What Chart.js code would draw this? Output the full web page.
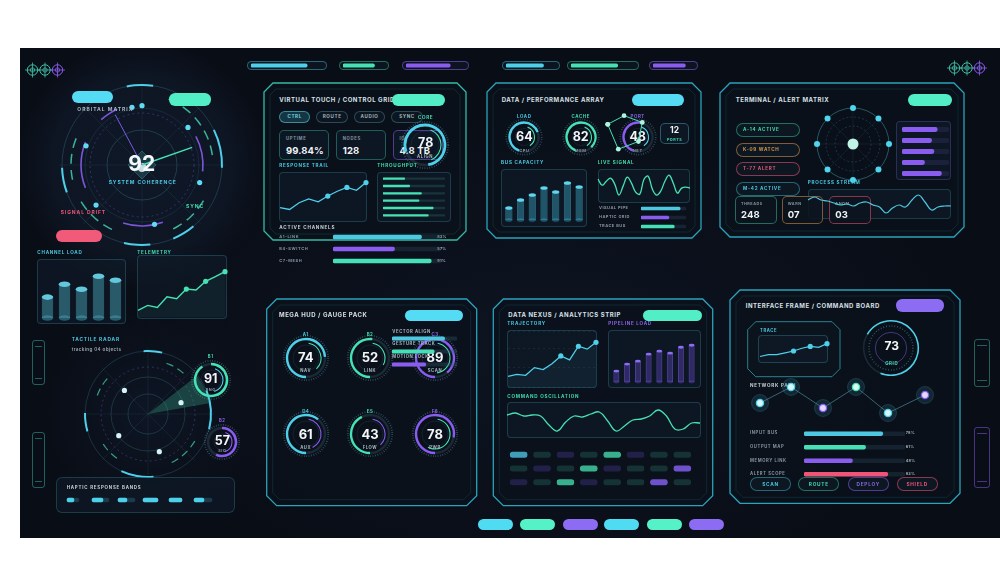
<!DOCTYPE html>
<html>
<head>
<meta charset="utf-8">
<title>HUD dashboard</title>
<script src="https://cdn.jsdelivr.net/npm/chart.js@4.4.1/dist/chart.umd.min.js"></script>
<style>
  html, body { margin:0; padding:0; width:1000px; height:578px; background:#fff; overflow:hidden; }
  #root { position:absolute; left:0; top:0; width:1000px; height:578px; font-family:Inter, "Noto Sans", sans-serif; }
  #bg { position:absolute; left:20px; top:48px; width:980px; height:490px;
    background:
      radial-gradient(circle at 122px 117px, #0f1827 0, #0e1624 88px, rgba(0,0,0,0) 125px),
      radial-gradient(circle at 128px 366px, #0e1624 0, rgba(0,0,0,0) 105px),
      radial-gradient(ellipse at 520px 300px, #0d1421 0, rgba(0,0,0,0) 420px),
      #090d16; }
  .t { position:absolute; white-space:nowrap; line-height:1; transform:translateY(-50%); }
  .c { transform:translate(-50%,-50%); }
  .box { position:absolute; box-sizing:border-box; border:1px solid rgba(70,170,190,0.26); border-radius:4px; background:rgba(16,30,44,0.5); }
  .pill { position:absolute; box-sizing:border-box; }
  canvas { position:absolute; }
  svg { position:absolute; left:0; top:0; }
</style>
</head>
<body>
<div id="root"><div id="bg"></div><svg id="frames" width="1000" height="578"></svg></div>
<script>
// ---------------- data ----------------
// header / footer strips
const headerFill = [78, 75, 75, 75, 73, 79];

// orbital matrix
const coherence = 92;
const orbitDots = [{x:-12,y:69},{x:0,y:71},{x:55,y:45},{x:-67,y:23},{x:69,y:-21},{x:15,y:-71},{x:-55,y:-48}];
const orbitNeedles = [[{x:0,y:0},{x:-32,y:60}], [{x:0,y:0},{x:60,y:21}]];
const channelLoad = [21, 34, 29, 42, 38];
const telemetry = [7, 12, 10, 21, 19, 29, 28, 37, 42, 47];
const telemetryMarks = [5, 7, 9];

// tactile radar
const radarBlips = [{x:-25,y:25},{x:35,y:12},{x:-31,y:-23},{x:12,y:-40}];
const radarIds = ["B1", "B2"];
const radarUnits = ["RNG", "SIG"];
const radarValues = [91, 57];
const hapticLit = [[1,8],[26,37],[52,61],[77,92],[103,116],[128,138]];
const hapticTail = [[1,13],[26,43],[52,69],[77,92],[103,116],[128,146]];

// virtual touch
const touchModes = ["CTRL", "ROUTE", "AUDIO", "SYNC"];
const statNames = ["UPTIME", "NODES", "IO"];
const statValues = ["99.84%", "128", "4.8 TB"];
const alignValue = 78;
const responseTrail = [14, 12, 19, 23, 20, 26, 31, 35, 32, 40];
const responseMarks = [5, 7, 9];
const throughput = [35, 43, 62, 58, 81, 73];
const channelNames = ["A1-LINK", "B4-SWITCH", "C7-MESH"];
const channelPct = [82, 57, 91];

// performance array
const perfTitles = ["LOAD", "CACHE", "PORT"];
const perfUnits = ["CPU", "MEM", "NET"];
const perfValues = [64, 82, 48];
const portCount = 12;
const portPoly = [{x:7,y:30},{x:24,y:39},{x:43,y:32},{x:39,y:12},{x:18,y:4},{x:7,y:30}];
const busCapacity = [12, 20, 25, 32, 28, 37, 33];
const liveSignal = [23, 17, 21, 24, 18, 7, 16, 25, 19, 10, 8, 23, 26, 13, 7, 11, 21, 27, 19, 9, 14, 15, 14];
const pipeNames = ["VISUAL PIPE", "HAPTIC GRID", "TRACE BUS"];
const pipeValues = [87, 62, 74];

// terminal / alert
const alertNames = ["A-14 ACTIVE", "K-09 WATCH", "T-77 ALERT", "M-42 ACTIVE"];
const matrixNodes = [36, 36, 36, 36, 36, 36, 36, 36];
const matrixBars = [75, 63, 68, 48, 84];
const processStream = [19, 22, 19, 18, 16, 14, 15, 13, 16, 17, 14, 12, 6, 11, 14, 12, 19, 24, 17, 9, 12, 13, 13];
const counterNames = ["THREADS", "WARN", "ANOM"];
const counterValues = ["248", "07", "03"];

// mega hud
const hudIds = ["A1", "B2", "C3", "D4", "E5", "F6"];
const hudUnits = ["NAV", "LINK", "SCAN", "AUX", "FLOW", "PWR"];
const hudValues = [74, 52, 89, 61, 43, 78];
const hudInner = [35, 30, 45, 40, 35, 55];
const vectorNames = ["VECTOR ALIGN", "GESTURE TRACK", "MOTION LOCK"];
const vectorValues = [81, 65, 52];

// data nexus
const trajectory = [11, 13, 12, 20, 18, 24, 32, 28, 42, 39, 46];
const trajectoryMarks = [6, 8, 10];
const pipelineLoad = [11, 18, 21, 28, 31, 29, 35, 37];
const oscillation = [23, 25, 22, 23, 22, 13, 7, 16, 22, 21, 24, 26, 17, 7, 12, 18, 19, 22, 28, 22, 9, 9, 15, 15];
const tileHue = [["c","t","p","t","t","p","t","t"], ["t","p","t","t","p","t","t","p"], ["p","t","t","p","t","t","p","t"]];
const tileLit = [[1,0,0,0,1,0,0,0], [0,0,0,1,0,0,0,1], [0,0,1,0,0,0,1,0]];

// interface frame
const trace = [6, 8, 8, 10, 12, 15, 17, 16, 20];
const traceMarks = [4, 6, 8];
const gridValue = 73;
const pathX = [0, 31, 63, 96, 128, 165];
const pathY = [17, 33, 12, 33, 7, 25];
const pathHue = ["c", "c", "p", "t", "c", "p"];
const busNames = ["INPUT BUS", "OUTPUT MAP", "MEMORY LINK", "ALERT SCOPE"];
const busValues = [78, 61, 48, 83];
const commands = ["SCAN", "ROUTE", "DEPLOY", "SHIELD"];

// ---------------- setup ----------------
Chart.defaults.animation = false;
Chart.defaults.responsive = false;
Chart.defaults.maintainAspectRatio = false;
Chart.defaults.devicePixelRatio = 1;
Chart.defaults.events = [];
Chart.defaults.plugins.legend.display = false;
Chart.defaults.plugins.tooltip.enabled = false;
Chart.defaults.elements.arc.borderWidth = 0;
Chart.defaults.layout.padding = 0;

const CLEAR = 'rgba(0,0,0,0)';
const HUE = {c:'#4fd0ea', t:'#46e2b4', p:'#8a5cf0', r:'#ee5577', o:'#d9984e'};
const EDGE = {c:'rgba(72,201,227,0.45)', t:'rgba(63,220,174,0.45)', p:'rgba(138,92,240,0.55)', r:'rgba(238,85,119,0.55)', o:'rgba(217,152,78,0.55)'};
const LC = {c:'#4ac8e2', t:'#40dcae', p:'#8a66e8', w:'#d8e0e6', g:'#8593a0', r:'#ee5577', o:'#d9984e'};
const TRACK = 'rgba(60,90,110,0.28)';

const root = document.getElementById('root');
const svg = document.getElementById('frames');
const NS = 'http://www.w3.org/2000/svg';

function put(css, cls) {
  const e = document.createElement('div');
  if (cls) e.className = cls;
  e.style.cssText = css;
  root.appendChild(e);
  return e;
}
function T(s, x, y, size, color, o = {}) {
  const ls = o.ls !== undefined ? o.ls : size * 0.15;
  const e = put(`left:${x}px;top:${y}px;font-size:${size}px;color:${color};letter-spacing:${ls}px;font-weight:${o.w || 700}`, 't' + (o.c ? ' c' : ''));
  e.textContent = s;
  return e;
}
function B(x, y, w, h, css) {
  return put(`left:${x}px;top:${y}px;width:${w}px;height:${h}px;` + (css || ''), 'box');
}
function pill(x, y, w, h, bg, css) {
  return put(`left:${x}px;top:${y}px;width:${w}px;height:${h}px;border-radius:${h / 2}px;background:${bg};` + (css || ''), 'pill');
}
function tag(s, x, y, w, h, key, size, css) {
  const e = pill(x, y, w, h, 'rgba(14,26,36,0.75)', `border:1px solid ${EDGE[key]};` + (css || ''));
  T(s, x + w / 2, y + h / 2, size, LC[key], {c: true});
  return e;
}
function cv(x, y, w, h) {
  const c = document.createElement('canvas');
  c.width = Math.round(w); c.height = Math.round(h);
  c.style.left = x + 'px'; c.style.top = y + 'px';
  c.style.width = Math.round(w) + 'px'; c.style.height = Math.round(h) + 'px';
  root.appendChild(c);
  return c;
}
function svgEl(name, attrs) {
  const e = document.createElementNS(NS, name);
  for (const k in attrs) e.setAttribute(k, attrs[k]);
  svg.appendChild(e);
  return e;
}
function octo(x, y, w, h, k) {
  return [[x+k,y],[x+w-k,y],[x+w,y+k],[x+w,y+h-k],[x+w-k,y+h],[x+k,y+h],[x,y+h-k],[x,y+k]].map(p => p.join(',')).join(' ');
}
function frame(x, y, w, h, k, color, fill) {
  svgEl('polygon', {points: octo(x, y, w, h, k), fill: fill || 'rgba(10,17,28,0.8)', stroke: color, 'stroke-width': 1.3});
  svgEl('polygon', {points: octo(x + 6, y + 6, w - 12, h - 12, Math.max(k - 3, 3)), fill: 'none', stroke: color, 'stroke-opacity': 0.2, 'stroke-width': 0.8});
}
function reticle(cx, cy, color) {
  svgEl('circle', {cx, cy, r: 5.2, fill: 'none', stroke: color, 'stroke-width': 1});
  svgEl('circle', {cx, cy, r: 2.2, fill: 'none', stroke: color, 'stroke-width': 0.8});
  svgEl('line', {x1: cx - 7.5, y1: cy, x2: cx + 7.5, y2: cy, stroke: color, 'stroke-width': 0.8});
  svgEl('line', {x1: cx, y1: cy - 7.5, x2: cx, y2: cy + 7.5, stroke: color, 'stroke-width': 0.8});
}
function slider(x, y, w, h, color) {
  put(`left:${x}px;top:${y}px;width:${w}px;height:${h}px;border:1px solid ${color};border-radius:3px;box-sizing:border-box`, 'pill');
  put(`left:${x + 3}px;top:${y + 6}px;width:${w - 6}px;height:1px;background:${color}`, 'pill');
  put(`left:${x + 3}px;top:${y + h - 7}px;width:${w - 6}px;height:1px;background:${color}`, 'pill');
}

// ---------------- chart helpers ----------------
const capPlugin = {
  id: 'caps',
  beforeDatasetsDraw(chart, args, o) {
    const ctx = chart.ctx;
    chart.getDatasetMeta(0).data.forEach(b => {
      ctx.save(); ctx.fillStyle = o.base;
      ctx.beginPath(); ctx.ellipse(b.x, b.base, b.width / 2, b.width * 0.24, 0, 0, Math.PI * 2); ctx.fill();
      ctx.restore();
    });
  },
  afterDatasetsDraw(chart, args, o) {
    const ctx = chart.ctx;
    chart.getDatasetMeta(0).data.forEach(b => {
      ctx.save(); ctx.fillStyle = o.top;
      ctx.beginPath(); ctx.ellipse(b.x, b.y, b.width / 2, b.width * 0.24, 0, 0, Math.PI * 2); ctx.fill();
      ctx.restore();
    });
  }
};

function cylinders(x, y, w, h, values, max, body, edge, cap, pct) {
  return new Chart(cv(x, y, w, h), {
    type: 'bar',
    data: { labels: values.map((_, i) => i), datasets: [{
      data: values, backgroundColor: body, borderColor: edge,
      borderWidth: {left: 0.8, right: 0.8, top: 0, bottom: 0}, borderSkipped: false,
      barPercentage: pct, categoryPercentage: 1 }] },
    options: {
      layout: { padding: {top: 3, bottom: 3} },
      scales: { x: {display: false}, y: {display: false, min: 0, max} },
      plugins: { caps: {top: cap, base: body} }
    },
    plugins: [capPlugin]
  });
}

function line(bx, by, bw, bh, values, max, color, o = {}) {
  const p = 3, marks = o.marks || [];
  return new Chart(cv(bx - p, by - p, bw + 2 * p, bh + 2 * p), {
    type: 'line',
    data: { labels: values.map((_, i) => i), datasets: [{
      data: values, borderColor: color, borderWidth: o.lw || 1.3, tension: o.tension || 0,
      fill: o.fill ? 'origin' : false, backgroundColor: o.fill || CLEAR,
      pointRadius: values.map((_, i) => marks.includes(i) ? 2.6 : 0),
      pointBackgroundColor: color, pointBorderWidth: 0, clip: false }] },
    options: {
      layout: { padding: p },
      scales: {
        x: { display: false },
        y: { display: !!o.grid, min: 0, max, ticks: {display: false, maxTicksLimit: 4},
             grid: {color: 'rgba(90,170,190,0.14)', drawTicks: false, lineWidth: 0.8},
             border: {display: false, dash: [2, 3]}, afterFit: s => { s.width = 0; } }
      }
    }
  });
}

function hbars(x, y, w, h, values, colors, o = {}) {
  const t = o.t || 3;
  return new Chart(cv(x, y, w, h), {
    type: 'bar',
    data: { labels: values.map((_, i) => i), datasets: [
      { data: values, backgroundColor: colors, borderRadius: 8, borderSkipped: false, barThickness: t, grouped: false },
      { data: values.map(() => 100), backgroundColor: o.track || CLEAR, borderRadius: 8, borderSkipped: false, barThickness: t, grouped: false }
    ] },
    options: { indexAxis: 'y', scales: { x: {display: false, min: 0, max: 100}, y: {display: false} } }
  });
}

function spanSegments(spans, color, gap) {
  const parts = [];
  spans.forEach(([a, b]) => { if (b < a) { parts.push([a, 360]); parts.push([0, b]); } else parts.push([a, b]); });
  parts.sort((p, q) => p[0] - q[0]);
  const data = [], colors = [];
  let pos = 0;
  parts.forEach(([a, b]) => {
    if (a > pos) { data.push(a - pos); colors.push(gap); }
    data.push(b - a); colors.push(color); pos = b;
  });
  if (pos < 360) { data.push(360 - pos); colors.push(gap); }
  return {data, colors};
}

function arcs(cx, cy, list) {
  const outer = list[0].r + list[0].w / 2;
  const S = Math.ceil(outer) * 2 + 2;
  const datasets = [];
  let inner = null;
  list.forEach(g => {
    const ro = g.r + g.w / 2, ri = g.r - g.w / 2;
    if (inner !== null && inner - ro > 0.01) datasets.push({data: [1], backgroundColor: [CLEAR], weight: inner - ro, borderWidth: 0});
    const s = spanSegments(g.spans, g.color, g.track || CLEAR);
    datasets.push({data: s.data, backgroundColor: s.colors, weight: g.w, borderWidth: 0});
    inner = ri;
  });
  return new Chart(cv(cx - S / 2, cy - S / 2, S, S), {
    type: 'doughnut',
    data: { datasets },
    options: { radius: outer, cutout: (Math.max(inner, 0) / outer * 100) + '%', rotation: 0 }
  });
}

function rings(cx, cy, R, list, o = {}) {
  const S = Math.ceil(R) * 2 + 2, half = S / 2;
  const n = o.spokes || 0;
  return new Chart(cv(cx - half, cy - half, S, S), {
    type: 'radar',
    data: { labels: n ? new Array(n).fill('') : [''], datasets: o.datasets || [] },
    options: { scales: { r: {
      min: 0, max: half, startAngle: o.start || 0,
      ticks: {display: false}, pointLabels: {display: false},
      afterBuildTicks: s => { s.ticks = [{value: 0}].concat(list.map(g => ({value: g[0]}))); },
      grid: { circular: true,
        color: c => c.index ? list[c.index - 1][1] : CLEAR,
        lineWidth: c => c.index ? list[c.index - 1][2] : 0 },
      border: { dash: c => (c.index && list[c.index - 1][3]) || [] },
      angleLines: { display: n > 0, color: o.spokeColor || 'rgba(80,150,170,0.16)', lineWidth: 0.7 }
    } } }
  });
}

function scatter(x, y, w, h, xr, yr, datasets, pad) {
  return new Chart(cv(x, y, w, h), {
    type: 'scatter',
    data: { datasets: datasets.map(d => Object.assign({clip: false}, d)) },
    options: { layout: {padding: pad || 0},
      scales: { x: {display: false, min: xr[0], max: xr[1]}, y: {display: false, min: yr[0], max: yr[1]} } }
  });
}

function gauge(cx, cy, r, value, color, inner, innerColor, o = {}) {
  rings(cx, cy, r + 5, [[r + 3.2, o.tick || 'rgba(100,160,180,0.5)', 1.8, [0.7, 1.7]], [r - 6, 'rgba(90,130,150,0.22)', 0.7]]);
  const st = o.start || 0, is = o.innerStart || 20;
  arcs(cx, cy, [
    {r: r, w: o.w || 2.2, color, track: o.track || 'rgba(80,120,140,0.25)', spans: [[st, (st + value * 3.6) % 360]]},
    {r: r - 4, w: 1.1, color: innerColor, spans: [[is, (is + inner * 3.6) % 360]]}
  ]);
}

// ---------------- decorations ----------------
reticle(32.5, 70, '#3fbfa6'); reticle(45, 70, '#3fbfa6'); reticle(57.5, 70, '#8a5cf0');
reticle(954.5, 68, '#3fbfa6'); reticle(967, 68, '#3fbfa6'); reticle(979.5, 68, '#8a5cf0');
slider(31.7, 340, 13.3, 45, 'rgba(63,200,170,0.45)');
slider(31.7, 431.7, 13.3, 56.3, 'rgba(63,200,170,0.45)');
slider(974, 339, 16, 47.7, 'rgba(63,200,170,0.45)');
slider(974, 427, 16, 61.3, 'rgba(138,92,240,0.5)');

frame(264, 83, 202, 157, 9, '#35b9a6');
frame(487, 83, 214, 155, 9, '#2aa3bb');
frame(720, 83, 244, 154, 10, '#2aa3bb');
frame(266.7, 299, 210, 206.7, 10, '#2aa3bb');
frame(493.3, 299, 219.4, 206.7, 10, '#2aa3bb');
frame(730, 290, 230, 213.3, 10, '#2aa3bb');
svgEl('polygon', {points: octo(747.7, 321.7, 92.3, 55, 8), fill: 'rgba(12,22,32,0.6)', stroke: 'rgba(60,190,205,0.65)', 'stroke-width': 1});

// header / footer strips
[[247, 80, 'c'], [339, 50, 't'], [402, 67, 'p'], [502, 58, 'c'], [567, 72, 't'], [649, 49, 'p']].forEach(([x, w, k], i) => {
  pill(x, 61, w, 9, 'rgba(14,26,36,0.7)', `border:1px solid ${EDGE[k]}`);
  hbars(x + 4, 61, w - 8, 9, [headerFill[i]], [HUE[k]], {t: 3.4});
});
[[478, '#4fdcf2'], [520, '#55f2c8'], [563, '#8c6cf2'], [604, '#4fdcf2'], [647, '#55f2c8'], [689, '#8c6cf2']].forEach(([x, c]) => pill(x, 519, 35, 11, c));

// ---------------- orbital matrix ----------------
const OX = 141.7, OY = 165;
rings(OX, OY, 82, [[35, 'rgba(80,160,180,0.35)', 0.8], [52, 'rgba(120,100,230,0.4)', 0.9, [2, 3]], [57, 'rgba(70,140,160,0.25)', 0.7], [80, 'rgba(80,160,185,0.32)', 0.8]], {spokes: 8});
arcs(OX, OY, [
  {r: 80, w: 2, color: '#4fd0ea', spans: [[349, 8], [64, 92], [140, 157], [174, 193], [250, 268]]},
  {r: 71, w: 1.5, color: 'rgba(70,220,180,0.8)', spans: [[22, 30], [35, 43], [48, 56], [61, 69], [74, 82], [120, 128], [133, 141], [146, 154], [205, 213], [218, 226], [231, 239], [258, 266], [271, 279], [284, 292]]},
  {r: 61, w: 1.6, color: 'rgba(138,92,240,0.9)', spans: [[62, 96], [160, 198], [248, 292], [318, 336]]}
]);
scatter(OX - 90, OY - 90, 180, 180, [-90, 90], [-90, 90], [
  {data: orbitDots, pointRadius: 2.6, pointBackgroundColor: '#5fdcf3', pointBorderWidth: 0},
  {data: orbitNeedles[0], showLine: true, borderColor: '#7d5ae6', borderWidth: 1, pointRadius: 0},
  {data: orbitNeedles[1], showLine: true, borderColor: '#46e2b4', borderWidth: 1.4, pointRadius: 0},
  {data: [{x: 0, y: -3}], pointRadius: 4.5, pointBackgroundColor: 'rgba(235,248,252,0.85)', pointBorderWidth: 0},
  {data: [{x: 0, y: 0}], pointStyle: 'rectRot', pointRadius: 14, pointBackgroundColor: 'rgba(40,95,105,0.45)', pointBorderColor: 'rgba(80,170,180,0.45)', pointBorderWidth: 0.8}
]);
T('ORBITAL MATRIX', 77.3, 108.7, 5, '#a9b8c2', {ls: 1});
T(String(coherence), OX, 162.5, 21, '#f4f8fa', {c: true, ls: 0});
T('SYSTEM COHERENCE', OX + 1, 181.7, 5, LC.c, {c: true, ls: 0.9});
T('SIGNAL DRIFT', 60.7, 212, 5, LC.r, {ls: 0.9});
T('SYNC', 186, 206, 5, LC.t, {ls: 0.9});
pill(72.3, 90.7, 40.4, 12, '#54dcf4');
pill(169.3, 93.3, 41.4, 12.4, '#52efc6');
pill(55.7, 230, 46.3, 12.3, '#f25a7a');

// channel load + telemetry
T('CHANNEL LOAD', 37.3, 252.7, 4.6, LC.c, {ls: 0.75});
T('TELEMETRY', 137.3, 252.7, 4.6, LC.t, {ls: 0.75});
B(37.3, 259.3, 88.7, 64.7);
B(137.3, 255, 89.4, 64);
cylinders(39, 262, 85, 59.3, channelLoad, 53.3, 'rgba(70,160,180,0.5)', 'rgba(100,200,220,0.5)', '#64c8dc', 0.68);
line(137.3, 255, 89.4, 63.3, telemetry, 63.3, '#46e2b4', {marks: telemetryMarks, fill: 'rgba(70,226,180,0.06)', lw: 1.4});

// ---------------- tactile radar ----------------
const RX = 148.3, RY = 414;
T('TACTILE RADAR', 71.7, 339, 4.8, LC.c, {ls: 0.8});
T('tracking 04 objects', 71.7, 350, 4.6, '#98a6b0', {ls: 0.35, w: 600});
rings(RX, RY, 65, [[20, 'rgba(80,160,180,0.3)', 0.8], [37, 'rgba(80,160,180,0.3)', 0.8], [47, 'rgba(120,100,230,0.4)', 0.9, [2, 3]], [63, 'rgba(80,160,185,0.3)', 0.8]], {spokes: 8});
arcs(RX, RY, [
  {r: 63, w: 2, color: '#4fd0ea', spans: [[356, 13], [68, 104], [175, 205], [254, 271]]},
  {r: 54, w: 1.2, color: 'rgba(70,220,180,0.7)', spans: [[20, 28], [33, 41], [120, 128], [133, 141], [146, 154], [215, 223], [228, 236], [290, 298], [303, 311]]}
]);
arcs(RX, RY, [{r: 31, w: 62, color: 'rgba(70,220,180,0.24)', spans: [[52, 80]]}]);
scatter(RX - 70, RY - 70, 140, 140, [-70, 70], [-70, 70], [
  {data: radarBlips, pointRadius: 2.6, pointBackgroundColor: '#d6f3fa', pointBorderWidth: 0}
]);
[[210.7, 380, 16, '#46e2b4', '#4fd0ea', LC.t], [222.3, 442.3, 14, '#8a5cf0', '#8a5cf0', LC.p]].forEach(([x, y, r, c1, c2, lc], i) => {
  gauge(x, y, r, radarValues[i], c1, 40, c2, {w: 2.6});
  T(radarIds[i], x, y - r - 7, 4.2, lc, {c: true});
  T(String(radarValues[i]), x, y - 1, 12.5, '#f2f6f8', {c: true, ls: 0});
  T(radarUnits[i], x, y + r * 0.62, 3.8, LC.g, {c: true});
});
B(56, 476.7, 179, 36, 'border-radius:6px');
T('HAPTIC RESPONSE BANDS', 66.7, 488, 4.4, '#c8d2d8', {ls: 0.8});
new Chart(cv(66, 497, 150, 6), {
  type: 'bar',
  data: { labels: [''], datasets: hapticLit.map(b => ({data: [b], backgroundColor: '#4fd0ea', borderRadius: 3, borderSkipped: false, barThickness: 4, grouped: false}))
    .concat(hapticTail.map(b => ({data: [b], backgroundColor: 'rgba(70,170,200,0.25)', borderRadius: 3, borderSkipped: false, barThickness: 4, grouped: false}))) },
  options: { indexAxis: 'y', scales: { x: {display: false, min: 0, max: 150}, y: {display: false} } }
});

// ---------------- virtual touch / control grid ----------------
T('VIRTUAL TOUCH / CONTROL GRID', 279.3, 100, 6, LC.w, {ls: 0.55});
pill(391.7, 94, 53.3, 12, '#52efc6');
[[279.3, 30.7], [316, 32.3], [354, 31], [390.7, 32.6]].forEach(([x, w], i) => {
  const on = i === 0;
  pill(x, 110.7, w, 12, on ? 'rgba(50,140,160,0.3)' : 'rgba(14,26,36,0.7)', `border:1px solid ${on ? 'rgba(80,200,215,0.6)' : 'rgba(90,150,170,0.4)'}`);
  T(touchModes[i], x + w / 2, 116.9, 4.6, on ? '#6fd6e8' : '#a3b4be', {c: true, ls: 0.6});
});
[[279.3, 'rgba(63,200,170,0.4)'], [336, 'rgba(63,200,170,0.4)'], [392.7, 'rgba(138,92,240,0.55)']].forEach(([x, bc], i) => {
  B(x, 130, 50, 30, `border-color:${bc};border-radius:5px`);
  T(statNames[i], x + 6.7, 139, 4.2, LC.g, {ls: 0.7});
  T(statValues[i], x + 6.7, 150.5, 9.5, '#eef3f6', {ls: 0.1});
});
gauge(425, 145, 20, alignValue, '#4fd0ea', 38, '#46e2b4', {w: 2.8, start: 250, innerStart: 20});
T('CORE', 425.7, 117.7, 4.6, LC.t, {c: true, ls: 0.6});
T(String(alignValue), 425.7, 142.5, 12.5, '#f2f6f8', {c: true, ls: 0});
T('ALIGN', 425, 157.3, 4.2, '#a3b4be', {c: true, ls: 0.6});
T('RESPONSE TRAIL', 279.3, 165.7, 4.6, LC.c, {ls: 0.75});
T('THROUGHPUT', 377.3, 165.7, 4.6, LC.t, {ls: 0.75});
B(279.3, 171.7, 88, 50);
B(376.7, 171.7, 74, 50);
line(279.3, 171.7, 88, 50, responseTrail, 50, '#4fd0ea', {marks: responseMarks, lw: 1.3});
hbars(383.3, 174.7, 61.7, 43.8, throughput, '#46e2b4', {t: 1.6, track: 'rgba(60,140,130,0.25)'});
T('ACTIVE CHANNELS', 279.3, 228.3, 4.6, '#c8d2d8', {ls: 0.8});
channelNames.forEach((n, i) => {
  T(n, 279.3, 236.7 + i * 12, 4, LC.g, {ls: 0.6});
  T(channelPct[i] + '%', 437.3, 236.7 + i * 12, 3.8, '#a3b4be', {ls: 0.2});
});
hbars(333.3, 230.7, 107.7, 36, channelPct, ['#4ec8e0', '#8a5cf0', '#45e0b5'], {t: 3.6, track: 'rgba(50,80,100,0.3)'});

// ---------------- data / performance array ----------------
T('DATA / PERFORMANCE ARRAY', 501.7, 100, 6, LC.w, {ls: 0.55});
pill(631.7, 94, 52.6, 12, '#54dcf4');
[[524.3, '#4fd0ea', LC.c, '#46e2b4'], [580.7, '#46e2b4', LC.t, '#46e2b4'], [637.7, '#8a5cf0', LC.p, '#4fd0ea']].forEach(([x, c, lc, ic], i) => {
  gauge(x, 137.3, 14.5, perfValues[i], c, 35, ic, {w: 2.4, start: 200});
  T(perfTitles[i], x, 116.7, 4.4, lc, {c: true, ls: 0.6});
  T(String(perfValues[i]), x, 136.5, 12.5, '#f2f6f8', {c: true, ls: 0});
  T(perfUnits[i], x, 150.7, 4, LC.g, {c: true, ls: 0.6});
});
scatter(597, 105, 56, 52, [0, 50], [0, 46], [
  {data: portPoly, showLine: true, borderColor: '#46e2b4', borderWidth: 1, pointRadius: 2.4, pointBackgroundColor: '#aef5df', pointBorderWidth: 0}
], 3);
B(660, 122.7, 29.3, 21.3, 'border-color:rgba(80,170,190,0.45);border-radius:5px');
T(String(portCount), 674.6, 129.6, 8.5, '#eef3f6', {c: true, ls: 0});
T('PORTS', 674.6, 140.4, 3.8, LC.t, {c: true, ls: 0.5});
T('BUS CAPACITY', 501, 163.3, 4.6, LC.c, {ls: 0.75});
T('LIVE SIGNAL', 597.7, 163.3, 4.6, LC.t, {ls: 0.75});
B(501, 169.3, 85.7, 57.4);
B(597.7, 169.3, 92.3, 33.4);
cylinders(503, 172, 82, 51, busCapacity, 45, 'rgba(60,170,200,0.42)', 'rgba(90,200,225,0.5)', '#5fd6ee', 0.62);
line(597.7, 169.3, 92.3, 33.3, liveSignal, 33.3, '#46e2b4', {tension: 0.4, lw: 1.3});
pipeNames.forEach((n, i) => T(n, 599, 208.3 + i * 8.85, 4, LC.g, {ls: 0.45}));
hbars(641, 203.9, 45, 26.5, pipeValues, ['#4ec8e0', '#8a5cf0', '#45e0b5'], {t: 3, track: 'rgba(50,70,100,0.35)'});

// ---------------- terminal / alert matrix ----------------
T('TERMINAL / ALERT MATRIX', 735.7, 99.7, 6, LC.w, {ls: 0.55});
pill(907.7, 94, 44, 12, '#52efc6');
['t', 'o', 'r', 'c'].forEach((k, i) => {
  const y = [123.3, 142.7, 162.3, 182.3][i];
  pill(735.7, y, 64.3, 14, 'rgba(14,26,36,0.75)', `border:1px solid ${EDGE[k]}`);
  T(alertNames[i], 743, y + 7, 4.6, LC[k], {ls: 0.7});
});
rings(852.7, 144, 39, [[18, 'rgba(80,150,170,0.35)', 0.8, [2, 2]], [27, 'rgba(80,150,170,0.35)', 0.8, [2, 2]], [36, 'rgba(80,170,190,0.5)', 0.9]], {
  spokes: 8,
  datasets: [
    {data: matrixNodes, pointRadius: 3, pointBackgroundColor: '#4fd6ee', pointBorderWidth: 0, borderWidth: 0, backgroundColor: CLEAR, fill: false},
    {data: [0], pointRadius: 5.5, pointBackgroundColor: '#bff3e4', pointBorderWidth: 0, borderWidth: 0, fill: false}
  ]
});
B(896, 120.7, 55, 59.3, 'border-color:rgba(120,100,220,0.3)');
hbars(901.7, 123.5, 46.6, 54.5, matrixBars, '#8a5cf0', {t: 4.2, track: 'rgba(70,60,130,0.25)'});
T('PROCESS STREAM', 807.7, 183.3, 4.6, LC.c, {ls: 0.75});
B(807.7, 189.3, 143.3, 30);
[[735, 't'], [781.7, 'o'], [829.3, 'r']].forEach(([x, k], i) => {
  B(x, 196, 41.7, 28, `border-color:${EDGE[k]};border-radius:5px;background:rgba(12,20,30,0.85)`);
  T(counterNames[i], x + 6, 204.3, 3.8, LC.g, {ls: 0.5});
  T(counterValues[i], x + 6, 215, 9.5, '#eef3f6', {ls: 0.1});
});
line(807.7, 189.3, 143.3, 30, processStream, 30, '#4fc8e0', {tension: 0.4, lw: 1.2});

// ---------------- mega hud / gauge pack ----------------
T('MEGA HUD / GAUGE PACK', 279, 315, 6, LC.w, {ls: 0.55});
pill(405, 310, 57.7, 11, '#54dcf4');
const hudPos = [[305.7, 357.7], [370, 357.7], [435, 357.7], [305.7, 434.3], [370, 434.3], [435, 434.3]];
const hudOuter = ['#4fd0ea', '#46e2b4', '#8a5cf0', '#4fd0ea', '#46e2b4', '#8a5cf0'];
const hudIn = ['#46e2b4', '#46e2b4', '#46e2b4', '#8a5cf0', '#8a5cf0', '#46e2b4'];
const hudLab = [LC.c, LC.t, LC.p, LC.c, LC.t, LC.p];
hudPos.forEach(([x, y], i) => {
  gauge(x, y, 19, hudValues[i], hudOuter[i], hudInner[i], hudIn[i], {w: 2.4, start: 180, innerStart: 10});
  T(hudIds[i], x, y - 22.7, 4.4, hudLab[i], {c: true, ls: 0.4});
  T(String(hudValues[i]), x, y - 0.5, 13, '#f2f6f8', {c: true, ls: 0});
  T(hudUnits[i], x, y + 13.3, 4.2, '#a3b4be', {c: true, ls: 0.6});
});
vectorNames.forEach((n, i) => T(n, 392.3, 331.7 + i * 12.7, 4.2, '#a3b4be', {ls: 0.6}));
hbars(392.3, 331.8, 65.4, 39, vectorValues, ['#4ec8e0', '#45e0b5', '#8a5cf0'], {t: 3.4, track: 'rgba(50,90,110,0.35)'});

// ---------------- data nexus / analytics strip ----------------
T('DATA NEXUS / ANALYTICS STRIP', 508.3, 315, 6, LC.w, {ls: 0.55});
pill(642.7, 310, 59, 11, '#52efc6');
T('TRAJECTORY', 507.3, 324.3, 4.6, LC.c, {ls: 0.75});
T('PIPELINE LOAD', 608.3, 324.3, 4.6, LC.p, {ls: 0.75});
B(507.3, 330, 90, 57.7);
B(608.3, 330, 92.4, 57.7);
line(507.3, 330, 90, 57.7, trajectory, 57.7, '#4fd0ea', {marks: trajectoryMarks, fill: 'rgba(79,208,234,0.06)', grid: true, lw: 1.3});
cylinders(611.3, 334, 86.4, 51.3, pipelineLoad, 45.3, 'rgba(110,80,220,0.35)', 'rgba(138,92,240,0.7)', '#8c6cf2', 0.55);
T('COMMAND OSCILLATION', 507.3, 396.7, 4.6, LC.t, {ls: 0.75});
B(507.3, 402.3, 193.4, 36);
line(507.3, 402.3, 193.4, 36, oscillation, 36, '#46e2b4', {tension: 0.4, lw: 1.3});
const tileOn = {c: '#3f9fb8', t: '#38b08e', p: '#6e52cc'};
const tileOff = {c: 'rgba(60,150,180,0.28)', t: 'rgba(50,140,120,0.28)', p: 'rgba(90,70,180,0.3)'};
new Chart(cv(506.7, 447.5, 186.7, 41), {
  type: 'bar',
  data: { labels: tileHue[0].map((_, i) => i), datasets: tileHue.map((row, r) => ({
    data: row.map(() => 1),
    backgroundColor: row.map((h, i) => tileLit[r][i] ? tileOn[h] : tileOff[h]),
    borderColor: CLEAR, borderWidth: {top: 3.8, bottom: 3.8, left: 0, right: 0}, borderSkipped: false,
    borderRadius: {topLeft: 7, topRight: 7, bottomLeft: 7, bottomRight: 7},
    barPercentage: 0.77, categoryPercentage: 1 })) },
  options: { scales: { x: {display: false, stacked: true}, y: {display: false, stacked: true, min: 0, max: 3, reverse: true} } }
});

// ---------------- interface frame / command board ----------------
T('INTERFACE FRAME / COMMAND BOARD', 745.7, 305.7, 6, LC.w, {ls: 0.55});
pill(895.7, 299.3, 48.3, 12.4, '#8c6cf2');
B(758, 335, 70.3, 28.3, 'border-color:rgba(70,170,190,0.3)');
T('TRACE', 760, 330.7, 4.2, LC.c, {ls: 0.6});
line(759.3, 335, 69, 28.3, trace, 28.3, '#4fd0ea', {marks: traceMarks, lw: 1.2});
rings(891, 348.3, 30, [[15.7, 'rgba(120,100,220,0.55)', 0.9], [22, 'rgba(80,170,190,0.5)', 1.6, [0.8, 2]]]);
arcs(891, 348.3, [{r: 27.3, w: 1.6, color: '#4fd0ea', track: 'rgba(70,120,140,0.25)', spans: [[300, (300 + gridValue * 3.6) % 360]]}]);
T(String(gridValue), 891.7, 345.5, 12, '#f2f6f8', {c: true, ls: 0});
T('GRID', 891.7, 364, 4.4, LC.t, {c: true, ls: 0.6});
T('NETWORK PATH', 750, 386, 4.6, '#c8d2d8', {ls: 0.75});
const CORE = {c: '#d5f7ff', t: '#d5fff0', p: '#e3d8ff'};
const pathPts = pathX.map((x, i) => ({x, y: pathY[i]}));
scatter(750, 370, 185, 60, [0, 165], [0, 40], [
  {data: pathPts, showLine: true, borderColor: 'rgba(90,170,190,0.55)', borderWidth: 1, pointRadius: 3.6,
   pointBackgroundColor: pathHue.map(h => CORE[h]), pointBorderColor: pathHue.map(h => HUE[h]), pointBorderWidth: 1.3},
  {data: pathPts, pointRadius: 8.5, pointBackgroundColor: 'rgba(40,90,110,0.3)', pointBorderColor: 'rgba(70,160,180,0.3)', pointBorderWidth: 0.8}
], 10);
busNames.forEach((n, i) => {
  T(n, 750, 433.3 + i * 13.6, 4.2, LC.g, {ls: 0.6});
  T(busValues[i] + '%', 905.7, 433.3 + i * 13.6, 3.8, '#a3b4be', {ls: 0.2});
});
hbars(804, 426.5, 101, 54.3, busValues, ['#4ec8e0', '#45e0b5', '#8a5cf0', '#ee5577'], {t: 3.6, track: 'rgba(50,80,100,0.3)'});
[[750, 'c'], [798.3, 't'], [847.7, 'p'], [896.7, 'r']].forEach(([x, k], i) => tag(commands[i], x, 477.3, 41, 13.7, k, 4.8));
</script>
</body>
</html>
